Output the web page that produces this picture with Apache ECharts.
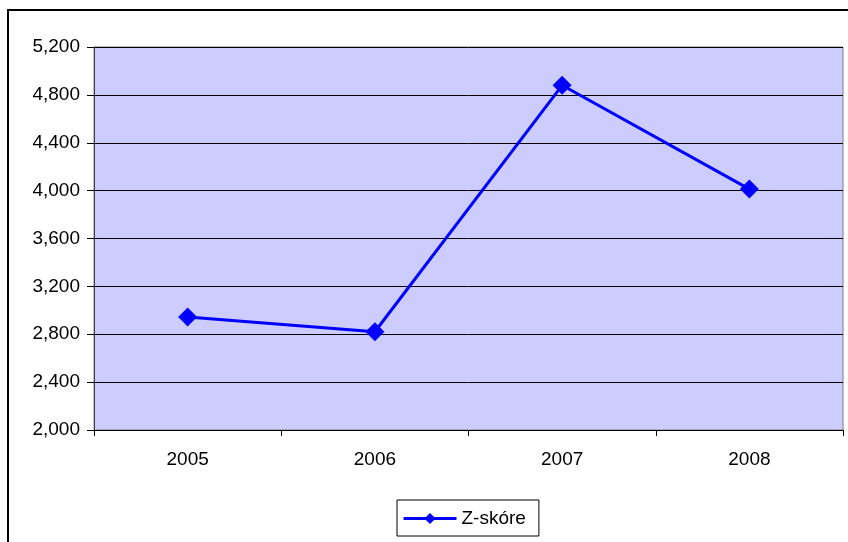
<!DOCTYPE html>
<html>
<head>
<meta charset="utf-8">
<script src="https://cdn.jsdelivr.net/npm/echarts@6/dist/echarts.min.js"></script>
<style>
  html, body { margin: 0; padding: 0; background: #fff; }
  #chart { width: 848px; height: 542px; }
</style>
</head>
<body>
<div id="chart"></div>
<script>
// Years on the category axis
const years = ['2005', '2006', '2007', '2008'];
// Z-score per year
const zScore = [2945, 2821, 4880, 4013];
// Value axis range and step
const yMin = 2000;
const yMax = 5200;
const yStep = 400;
const seriesName = 'Z-skóre';

const chart = echarts.init(document.getElementById('chart'), null, { renderer: 'canvas' });

const fmt = v => {
  const s = Math.round(v).toString();
  return s.replace(/\B(?=(\d{3})+(?!\d))/g, ',');
};

const FONT = 'Liberation Sans, Arial, sans-serif';

chart.setOption({
  animation: false,
  backgroundColor: '#ffffff',
  textStyle: { fontFamily: FONT },
  graphic: [{
    type: 'rect',
    shape: { x: 8, y: 10, width: 900, height: 600 },
    style: { fill: 'none', stroke: '#000000', lineWidth: 2 },
    z: 100
  }],
  grid: {
    left: 94, right: 5, top: 47, bottom: 112,
    show: true,
    backgroundColor: '#ccccff',
    borderColor: '#808080',
    borderWidth: 1
  },
  legend: {
    left: 397, top: 500,
    padding: [9, 13, 8, 5],
    itemWidth: 53, itemHeight: 14, itemGap: 0,
    borderColor: '#000000', borderWidth: 1,
    lineStyle: { width: 3 },
    textStyle: { fontSize: 19, color: '#000', fontFamily: FONT },
    data: [seriesName]
  },
  xAxis: {
    type: 'category',
    data: years,
    boundaryGap: true,
    axisLine: { show: true, lineStyle: { color: '#000000', width: 1 } },
    axisTick: { show: true, alignWithLabel: false, length: 6, lineStyle: { color: '#000000' } },
    axisLabel: { color: '#000', fontSize: 19, margin: 20 },
    splitLine: { show: false }
  },
  yAxis: {
    type: 'value',
    min: yMin, max: yMax, interval: yStep,
    axisLine: { show: true, lineStyle: { color: '#404040', width: 1 } },
    axisTick: { show: true, length: 7, lineStyle: { color: '#000000' } },
    axisLabel: { color: '#000', fontSize: 19, margin: 14, formatter: fmt },
    splitLine: { show: true, lineStyle: { color: '#000000', width: 1 } }
  },
  series: [{
    name: seriesName,
    type: 'line',
    data: zScore,
    color: '#0000ff',
    lineStyle: { color: '#0000ff', width: 3 },
    itemStyle: { color: '#0000ff' },
    symbol: 'diamond',
    symbolSize: 19,
    showSymbol: true
  }]
});
</script>
</body>
</html>
